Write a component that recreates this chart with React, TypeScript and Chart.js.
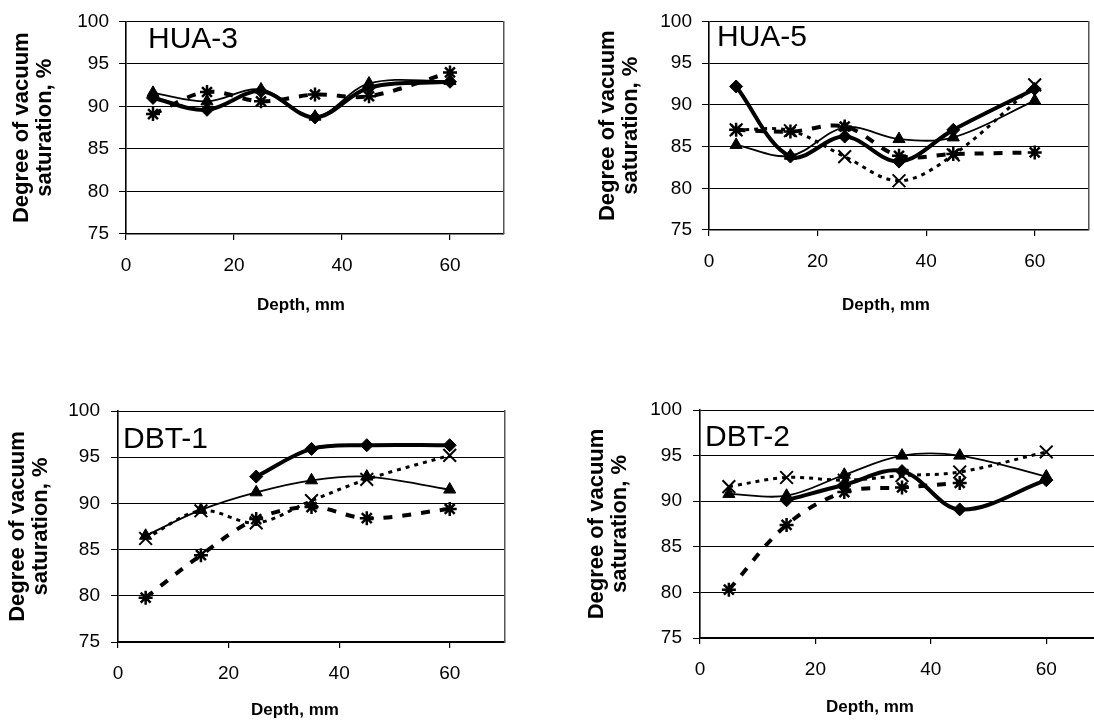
import React, { useEffect, useRef } from "react";
import { Chart, registerables } from "chart.js";

Chart.register(...registerables);

// ---------- data ----------
const DEPTHS = [5, 15, 25, 35, 45, 60];
const X_TICK_VALUES = [0, 20, 40, 60];
const X_MIN = 0;
const X_MAX = 70;
const Y_MIN = 75;
const Y_MAX = 100;
const Y_STEP = 5;

const X_TITLE = "Depth, mm";
const Y_TITLE = ["Degree of vacuum", "saturation, %"];

// HUA-3
const HUA3_DIAMOND = [91.0, 89.6, 91.8, 88.7, 92.2, 92.9];
const HUA3_TRIANGLE = [91.6, 90.6, 92.0, 88.8, 92.7, 93.0];
const HUA3_ASTERISK = [89.1, 91.7, 90.6, 91.4, 91.2, 94.0];

// HUA-5
const HUA5_DIAMOND = [92.2, 83.8, 86.2, 83.2, 87.0, 91.9];
const HUA5_TRIANGLE = [85.2, 83.9, 87.3, 85.9, 86.1, 90.5];
const HUA5_ASTERISK = [87.0, 86.8, 87.4, 83.9, 84.1, 84.3];
const HUA5_CROSS = [87.0, 86.9, 83.8, 80.9, 84.0, 92.4];

// DBT-1
const DBT1_DIAMOND = [null, null, 92.9, 95.9, 96.3, 96.3];
const DBT1_TRIANGLE = [86.5, 89.3, 91.2, 92.5, 92.9, 91.5];
const DBT1_ASTERISK = [79.8, 84.4, 88.3, 89.6, 88.4, 89.4];
const DBT1_CROSS = [86.2, 89.2, 87.9, 90.3, 92.6, 95.2];

// DBT-2
const DBT2_DIAMOND = [null, 90.1, 91.8, 93.3, 89.1, 92.3];
const DBT2_TRIANGLE = [90.8, 90.6, 92.9, 95.0, 95.0, 92.7];
const DBT2_ASTERISK = [80.3, 87.4, 91.0, 91.5, 92.0, null];
const DBT2_CROSS = [91.6, 92.6, 92.3, 92.8, 93.2, 95.4];

// ---------- styles / layout ----------
const FONT = "'Liberation Sans', Arial, Helvetica, sans-serif";
const X_TITLE_SIZE = 17;
const X_TITLE_LH = 1.2;

const SERIES_STYLE: Record<string, any> = {
  diamond: {
    borderWidth: 4,
    borderDash: [],
    pointStyle: "rectRot",
    pointRadius: 6.5,
    pointBorderWidth: 1,
  },
  triangle: {
    borderWidth: 1.8,
    borderDash: [],
    pointStyle: "triangle",
    pointRadius: 7,
    pointBorderWidth: 1,
  },
  asterisk: {
    borderWidth: 4,
    borderDash: [9, 10],
    pointStyle: "star",
    pointRadius: 7,
    pointBorderWidth: 2.5,
  },
  cross: {
    borderWidth: 3,
    borderDash: [4, 5],
    pointStyle: "crossRot",
    pointRadius: 9,
    pointBorderWidth: 2,
  },
};

type Panel = {
  name: string;
  series: { kind: string; values: (number | null)[] }[];
  box: { left: number; top: number; width: number; height: number };
  plot: { l: number; t: number; r: number; b: number };
  yTitlePad: number;
  yTickPad: number;
  xTickPad: number;
  xTitlePad: number;
  label: { x: number; y: number };
};

const PANELS: Panel[] = [
  {
    name: "HUA-3",
    series: [
      { kind: "diamond", values: HUA3_DIAMOND },
      { kind: "triangle", values: HUA3_TRIANGLE },
      { kind: "asterisk", values: HUA3_ASTERISK },
    ],
    box: { left: 0, top: 0, width: 602, height: 340 },
    plot: { l: 126, t: 18, r: 504, b: 234 },
    yTitlePad: 10,
    yTickPad: 10,
    xTickPad: 14,
    xTitlePad: 24.5,
    label: { x: 148, y: 23 },
  },
  {
    name: "HUA-5",
    series: [
      { kind: "diamond", values: HUA5_DIAMOND },
      { kind: "triangle", values: HUA5_TRIANGLE },
      { kind: "asterisk", values: HUA5_ASTERISK },
      { kind: "cross", values: HUA5_CROSS },
    ],
    box: { left: 586, top: 0, width: 600, height: 340 },
    plot: { l: 709, t: 14, r: 1089, b: 230 },
    yTitlePad: 10,
    yTickPad: 10,
    xTickPad: 14,
    xTitlePad: 24.5,
    label: { x: 717, y: 21 },
  },
  {
    name: "DBT-1",
    series: [
      { kind: "diamond", values: DBT1_DIAMOND },
      { kind: "triangle", values: DBT1_TRIANGLE },
      { kind: "asterisk", values: DBT1_ASTERISK },
      { kind: "cross", values: DBT1_CROSS },
    ],
    box: { left: 0, top: 380, width: 590, height: 344 },
    plot: { l: 118, t: 411, r: 505, b: 642 },
    yTitlePad: 6,
    yTickPad: 11,
    xTickPad: 14,
    xTitlePad: 3.5,
    label: { x: 123, y: 423 },
  },
  {
    name: "DBT-2",
    series: [
      { kind: "diamond", values: DBT2_DIAMOND },
      { kind: "triangle", values: DBT2_TRIANGLE },
      { kind: "asterisk", values: DBT2_ASTERISK },
      { kind: "cross", values: DBT2_CROSS },
    ],
    box: { left: 580, top: 380, width: 580, height: 344 },
    plot: { l: 700, t: 410, r: 1104, b: 638 },
    yTitlePad: 5,
    yTickPad: 11,
    xTickPad: 14,
    xTitlePad: 6.5,
    label: { x: 705, y: 421 },
  },
];

function buildConfig(p: Panel): any {
  const datasets = p.series.map((s) => ({
    label: s.kind,
    data: DEPTHS.map((d, i) => ({ x: d, y: s.values[i] })),
    borderColor: "#000",
    backgroundColor: "#000",
    pointBackgroundColor: "#000",
    pointBorderColor: "#000",
    tension: 0.35,
    borderCapStyle: "butt",
    fill: false,
    spanGaps: false,
    yAxisID: "y",
    ...SERIES_STYLE[s.kind],
  }));

  const titleBoxH = X_TITLE_SIZE * X_TITLE_LH + p.xTitlePad;

  return {
    type: "line",
    data: { datasets },
    options: {
      responsive: false,
      animation: false,
      events: [],
      layout: {
        padding: { top: p.plot.t - p.box.top, right: 0, left: 0, bottom: 0 },
      },
      plugins: {
        legend: { display: false },
        tooltip: { enabled: false },
        title: {
          display: true,
          position: "bottom",
          fullSize: true,
          text: X_TITLE,
          color: "#000",
          font: { family: FONT, size: X_TITLE_SIZE, weight: "bold", lineHeight: X_TITLE_LH },
          padding: { top: 0, bottom: p.xTitlePad },
        },
      },
      scales: {
        x: {
          type: "linear",
          position: "bottom",
          min: X_MIN,
          max: X_MAX,
          afterBuildTicks: (scale: any) => {
            scale.ticks = X_TICK_VALUES.map((v) => ({ value: v }));
          },
          afterFit: (scale: any) => {
            scale.height = p.box.top + p.box.height - titleBoxH - p.plot.b;
          },
          grid: {
            drawOnChartArea: false,
            drawTicks: true,
            tickLength: 6,
            color: "#000",
            lineWidth: 1.2,
          },
          border: { display: true, color: "#000", width: 1.6 },
          ticks: {
            color: "#000",
            font: { family: FONT, size: 19 },
            padding: p.xTickPad,
            maxRotation: 0,
          },
        },
        y: {
          type: "linear",
          position: "left",
          min: Y_MIN,
          max: Y_MAX,
          afterFit: (scale: any) => {
            scale.width = p.plot.l - p.box.left;
          },
          grid: {
            color: "#000",
            lineWidth: 1,
            drawTicks: true,
            tickLength: 7,
          },
          border: { display: true, color: "#000", width: 1.6 },
          ticks: {
            stepSize: Y_STEP,
            color: "#000",
            font: { family: FONT, size: 19 },
            padding: p.yTickPad,
          },
          title: {
            display: true,
            text: Y_TITLE,
            color: "#000",
            font: { family: FONT, size: 22, weight: "bold", lineHeight: 1.05 },
            padding: { top: p.yTitlePad, bottom: 0 },
          },
        },
        yRight: {
          type: "linear",
          position: "right",
          display: true,
          afterFit: (scale: any) => {
            scale.width = p.box.left + p.box.width - p.plot.r;
          },
          grid: { drawOnChartArea: false, drawTicks: false },
          ticks: { display: false },
          border: { display: true, color: "#555", width: 1.5 },
        },
      },
    },
  };
}

function PanelChart({ panel }: { panel: Panel }) {
  const ref = useRef<HTMLCanvasElement | null>(null);
  useEffect(() => {
    if (!ref.current) return;
    const chart = new Chart(ref.current, buildConfig(panel));
    return () => chart.destroy();
  }, [panel]);
  const b = panel.box;
  return (
    <>
      <canvas
        ref={ref}
        width={b.width}
        height={b.height}
        style={{
          position: "absolute",
          left: b.left,
          top: b.top,
          width: b.width,
          height: b.height,
        }}
      />
      <div
        style={{
          position: "absolute",
          left: panel.label.x,
          top: panel.label.y,
          fontFamily: FONT,
          fontSize: 30,
          lineHeight: "30px",
          color: "#000",
          whiteSpace: "nowrap",
        }}
      >
        {panel.name}
      </div>
    </>
  );
}

export default function App() {
  return (
    <div
      style={{
        position: "fixed",
        left: 0,
        top: 0,
        width: 1094,
        height: 724,
        overflow: "hidden",
        background: "#fff",
      }}
    >
      {PANELS.map((p) => (
        <PanelChart key={p.name} panel={p} />
      ))}
    </div>
  );
}
